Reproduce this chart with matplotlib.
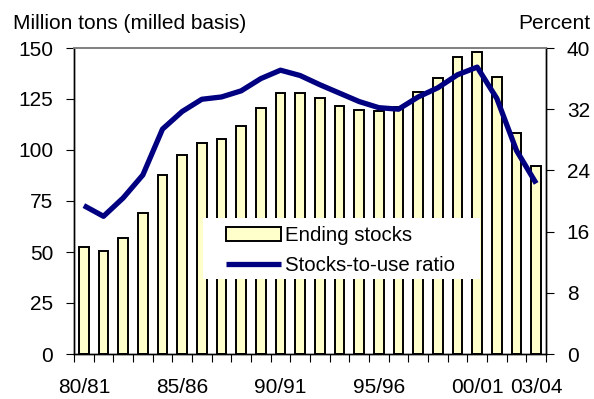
import matplotlib
matplotlib.use("Agg")
import matplotlib.pyplot as plt
from matplotlib.patches import Rectangle
import numpy as np

plt.rcParams['font.family'] = ['Liberation Sans', 'DejaVu Sans']

# Marketing years 1980/81 - 2003/04
years = ["80/81", "81/82", "82/83", "83/84", "84/85", "85/86", "86/87", "87/88",
         "88/89", "89/90", "90/91", "91/92", "92/93", "93/94", "94/95", "95/96",
         "96/97", "97/98", "98/99", "99/00", "00/01", "01/02", "02/03", "03/04"]

# Ending stocks, million tons (milled basis)
ending_stocks = [52.5, 50.3, 56.7, 69.2, 87.6, 97.7, 103.3, 105.4, 111.7, 120.7,
                 127.7, 128.0, 125.3, 121.7, 119.8, 119.2, 121.0, 128.5, 135.4,
                 145.6, 148.1, 135.6, 108.2, 92.0]

# Stocks-to-use ratio, percent
stocks_to_use = [19.4, 18.0, 20.4, 23.4, 29.4, 31.7, 33.3, 33.6, 34.4, 36.0,
                 37.1, 36.4, 35.2, 34.1, 33.0, 32.2, 32.0, 33.6, 34.8, 36.5,
                 37.5, 33.4, 26.6, 22.3]

labelled_years = ["80/81", "85/86", "90/91", "95/96", "00/01", "03/04"]
left_ticks = [0, 25, 50, 75, 100, 125, 150]
right_ticks = [0, 8, 16, 24, 32, 40]

W, H = 594, 399
fig = plt.figure(figsize=(W / 100, H / 100), dpi=100)
ax = fig.add_axes([74 / W, 1 - 354 / H, (546 - 74) / W, (354 - 48) / H])
ax2 = ax.twinx()

x = np.arange(len(years))
bars = ax.bar(x, ending_stocks, width=0.5, color="#FFFFCC", edgecolor="black",
              linewidth=1.4, label="Ending stocks", zorder=2)
line, = ax2.plot(x, stocks_to_use, color="#000080", linewidth=3.8,
                 solid_joinstyle="round", solid_capstyle="butt",
                 label="Stocks-to-use ratio")

ax.set_xlim(-0.5, len(years) - 0.5)
ax.set_ylim(0, 150)
ax2.set_ylim(0, 40)
ax.set_yticks(left_ticks)
ax2.set_yticks(right_ticks)

# Category labels under selected bars, tick marks at the bar boundaries
ax.set_xticks([years.index(y) for y in labelled_years])
ax.set_xticklabels(labelled_years)
ax.set_xticks(np.arange(len(years) + 1) - 0.5, minor=True)
ax.tick_params(axis="x", which="major", length=0, pad=17, labelsize=15)
ax.tick_params(axis="x", which="minor", length=5.5, width=0.8, direction="out")
ax.tick_params(axis="y", length=6, width=0.8, pad=9, labelsize=15)
ax2.tick_params(axis="y", length=6, width=0.8, pad=9, labelsize=15)

for a in (ax, ax2):
    for side in ("left", "right", "bottom"):
        a.spines[side].set_color("black")
        a.spines[side].set_linewidth(1.0)
    a.spines["top"].set_color("#808080")
    a.spines["top"].set_linewidth(1.2)

fig.text(13 / W, 1 - 29 / H, "Million tons (milled basis)", fontsize=15,
         ha="left", va="baseline")
fig.text(590 / W, 1 - 29 / H, "Percent", fontsize=15, ha="right", va="baseline")

# White legend panel
panel = Rectangle((203 / W, 1 - 279 / H), (480 - 203) / W, (279 - 218) / H,
                  transform=fig.transFigure, facecolor="white",
                  edgecolor="none", zorder=4)
ax2.add_artist(panel)
leg = ax2.legend([bars, line], ["Ending stocks", "Stocks-to-use ratio"],
                 loc="upper left", bbox_to_anchor=(226 / W, 1 - 226 / H),
                 bbox_transform=fig.transFigure, fontsize=14.7, frameon=False,
                 handlelength=2.7, handletextpad=0.2, labelspacing=0.55,
                 borderpad=0, borderaxespad=0)
leg.set_zorder(5)

fig.savefig("out.png", dpi=100)
